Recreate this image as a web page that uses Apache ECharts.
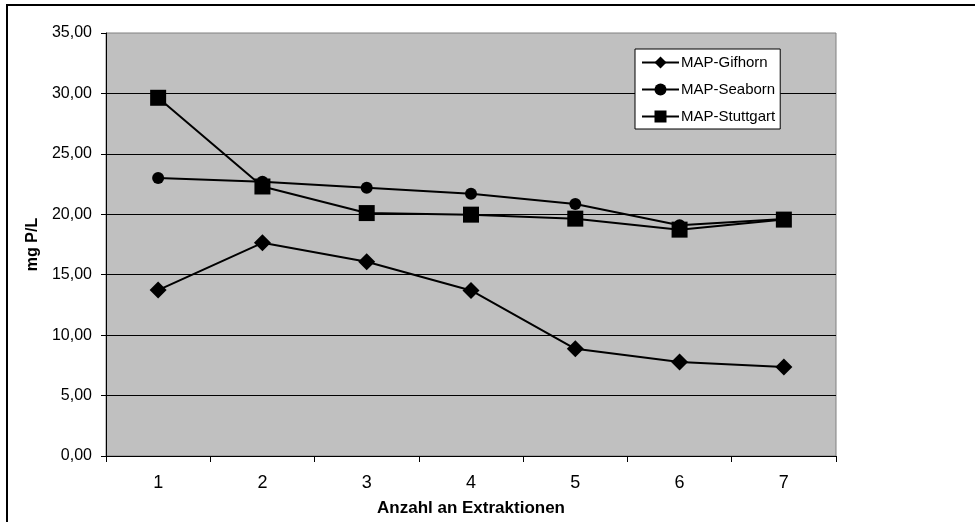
<!DOCTYPE html>
<html>
<head>
<meta charset="utf-8">
<script src="https://cdn.jsdelivr.net/npm/echarts@6/dist/echarts.min.js"></script>
<style>
  html, body { margin: 0; padding: 0; background: #fff; }
  #chart { width: 975px; height: 522px; }
</style>
</head>
<body>
<div id="chart"></div>
<script>
// Extraction rounds and measured phosphate (mg P/L) per MAP source
const extractions = ['1', '2', '3', '4', '5', '6', '7'];
const gifhorn   = [13.73, 17.64, 16.08, 13.70, 8.87, 7.78, 7.37];
const seaborn   = [23.00, 22.70, 22.19, 21.69, 20.85, 19.10, 19.60];
const stuttgart = [29.64, 22.30, 20.10, 19.97, 19.64, 18.73, 19.56];
const yTicks = { min: 0, max: 35, step: 5 };

const FONT = 'Liberation Sans, Arial, sans-serif';

function lineSeries(name, data, symbol, size) {
  return {
    name: name,
    type: 'line',
    data: data,
    symbol: symbol,
    symbolSize: size,
    showAllSymbol: true,
    lineStyle: { color: '#000', width: 2 },
    itemStyle: { color: '#000', borderWidth: 0 },
    emphasis: { disabled: true },
    animation: false,
    z: 3
  };
}

const chart = echarts.init(document.getElementById('chart'), null, { renderer: 'canvas' });
chart.setOption({
  animation: false,
  backgroundColor: '#fff',
  textStyle: { fontFamily: FONT },
  graphic: [{
    // outer chart frame (runs past the right and bottom edges)
    type: 'rect',
    shape: { x: 7, y: 5, width: 1000, height: 1000 },
    style: { fill: 'none', stroke: '#000', lineWidth: 2 },
    z: -10
  }],
  grid: {
    left: 106, right: 139, top: 33, bottom: 63,
    show: true,
    backgroundColor: '#C0C0C0',
    borderColor: '#808080',
    borderWidth: 1
  },
  legend: {
    orient: 'vertical',
    left: 635, top: 49,
    backgroundColor: '#fff',
    borderColor: '#000',
    borderWidth: 1,
    padding: [6, 5, 5, 6],
    itemWidth: 37,
    itemHeight: 15,
    itemGap: 12,
    textStyle: { fontFamily: FONT, fontSize: 15, color: '#000', padding: [0, 0, 0, -3] },
    data: ['MAP-Gifhorn', 'MAP-Seaborn', 'MAP-Stuttgart']
  },
  xAxis: {
    type: 'category',
    data: extractions,
    boundaryGap: true,
    axisLine: { lineStyle: { color: '#000', width: 1 } },
    axisTick: { show: true, length: 6, lineStyle: { color: '#000' } },
    axisLabel: { margin: 18, fontSize: 18, color: '#000', fontFamily: FONT },
    name: 'Anzahl an Extraktionen',
    nameLocation: 'middle',
    nameGap: 44,
    nameTextStyle: { fontSize: 17, fontWeight: 'bold', color: '#000', fontFamily: FONT }
  },
  yAxis: {
    type: 'value',
    min: yTicks.min, max: yTicks.max, interval: yTicks.step,
    axisLine: { show: true, lineStyle: { color: '#000', width: 1 } },
    axisTick: { show: true, length: 5, lineStyle: { color: '#000' } },
    axisLabel: {
      margin: 14, fontSize: 16, color: '#000', fontFamily: FONT,
      formatter: v => v.toFixed(2).replace('.', ',')
    },
    splitLine: { show: true, showMaxLine: false, lineStyle: { color: '#000', width: 1 } },
    name: 'mg P/L',
    nameLocation: 'middle',
    nameGap: 62,
    nameTextStyle: { fontSize: 16, fontWeight: 'bold', color: '#000', fontFamily: FONT }
  },
  series: [
    lineSeries('MAP-Gifhorn', gifhorn, 'diamond', 17),
    lineSeries('MAP-Seaborn', seaborn, 'circle', 12),
    lineSeries('MAP-Stuttgart', stuttgart, 'rect', 16)
  ]
});
</script>
</body>
</html>
